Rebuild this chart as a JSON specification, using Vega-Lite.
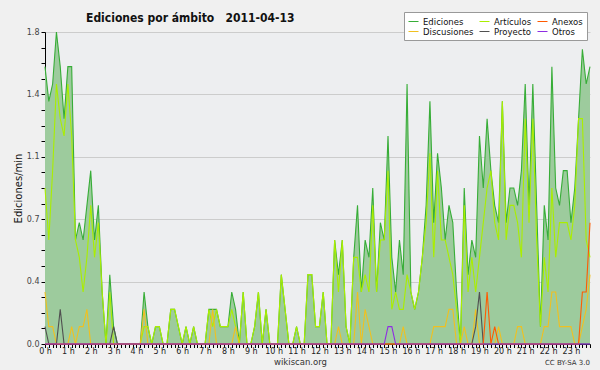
{
"$schema":"https://vega.github.io/schema/vega-lite/v6.json",
"width":545,"height":312,"autosize":"none",
"padding":{"left":45,"top":32,"right":10,"bottom":26},
"background":"#f0f0f0",
"config":{"view":{"fill":"#edeef0","stroke":null},"font":"DejaVu Sans","axisX":{"labelOverlap":false},"axis":{"labelOverlap":false}},
"title":{"text":"Ediciones por ámbito\u00a0\u00a0\u00a02011-04-13","anchor":"start","dx":73,"fontSize":12,"font":"DejaVu Sans Condensed, DejaVu Sans","fontWeight":"bold","color":"#111","offset":-13},
"data":{"values":[
{"m":0,"E":1.6,"A":0.9,"D":0.3,"P":0.1,"N":0,"O":0},
{"m":10,"E":1.4,"A":0.6,"D":0.1,"P":0,"N":0,"O":0},
{"m":20,"E":1.5,"A":1.0,"D":0.1,"P":0,"N":0,"O":0},
{"m":30,"E":1.8,"A":1.5,"D":0,"P":0,"N":0,"O":0},
{"m":40,"E":1.6,"A":1.3,"D":0,"P":0.2,"N":0,"O":0},
{"m":50,"E":1.3,"A":1.2,"D":0,"P":0,"N":0,"O":0},
{"m":60,"E":1.6,"A":1.5,"D":0,"P":0,"N":0,"O":0},
{"m":70,"E":1.6,"A":1.2,"D":0.1,"P":0,"N":0,"O":0},
{"m":80,"E":0.6,"A":0.6,"D":0,"P":0,"N":0,"O":0},
{"m":90,"E":0.7,"A":0.5,"D":0.1,"P":0,"N":0,"O":0},
{"m":100,"E":0.6,"A":0.3,"D":0.1,"P":0,"N":0,"O":0},
{"m":110,"E":0.8,"A":0.5,"D":0.2,"P":0,"N":0,"O":0},
{"m":120,"E":1.0,"A":0.8,"D":0,"P":0,"N":0,"O":0},
{"m":130,"E":0.6,"A":0.5,"D":0,"P":0,"N":0,"O":0},
{"m":140,"E":0.8,"A":0.7,"D":0,"P":0,"N":0,"O":0},
{"m":150,"E":0.3,"A":0.3,"D":0,"P":0,"N":0,"O":0},
{"m":160,"E":0,"A":0,"D":0,"P":0,"N":0,"O":0},
{"m":170,"E":0.4,"A":0.3,"D":0,"P":0,"N":0,"O":0},
{"m":180,"E":0.1,"A":0,"D":0,"P":0.1,"N":0,"O":0},
{"m":190,"E":0,"A":0,"D":0,"P":0,"N":0,"O":0},
{"m":200,"E":0,"A":0,"D":0,"P":0,"N":0,"O":0},
{"m":210,"E":0,"A":0,"D":0,"P":0,"N":0,"O":0},
{"m":220,"E":0,"A":0,"D":0,"P":0,"N":0,"O":0},
{"m":230,"E":0,"A":0,"D":0,"P":0,"N":0,"O":0},
{"m":240,"E":0,"A":0,"D":0,"P":0,"N":0,"O":0},
{"m":250,"E":0,"A":0,"D":0,"P":0,"N":0,"O":0},
{"m":260,"E":0.3,"A":0.1,"D":0.2,"P":0,"N":0,"O":0},
{"m":270,"E":0.1,"A":0.1,"D":0,"P":0,"N":0,"O":0},
{"m":280,"E":0,"A":0,"D":0,"P":0,"N":0,"O":0},
{"m":290,"E":0.1,"A":0.1,"D":0,"P":0,"N":0,"O":0},
{"m":300,"E":0.1,"A":0.1,"D":0,"P":0,"N":0,"O":0},
{"m":310,"E":0,"A":0,"D":0,"P":0,"N":0,"O":0},
{"m":320,"E":0,"A":0,"D":0,"P":0,"N":0,"O":0},
{"m":330,"E":0.2,"A":0.2,"D":0,"P":0,"N":0,"O":0},
{"m":340,"E":0.2,"A":0.2,"D":0,"P":0,"N":0,"O":0},
{"m":350,"E":0.1,"A":0.1,"D":0,"P":0,"N":0,"O":0},
{"m":360,"E":0,"A":0,"D":0,"P":0,"N":0,"O":0},
{"m":370,"E":0.1,"A":0.1,"D":0,"P":0,"N":0,"O":0},
{"m":380,"E":0,"A":0,"D":0,"P":0,"N":0,"O":0},
{"m":390,"E":0.1,"A":0.1,"D":0,"P":0,"N":0,"O":0},
{"m":400,"E":0,"A":0,"D":0,"P":0,"N":0,"O":0},
{"m":410,"E":0,"A":0,"D":0,"P":0,"N":0,"O":0},
{"m":420,"E":0,"A":0,"D":0,"P":0,"N":0,"O":0},
{"m":430,"E":0.2,"A":0.2,"D":0,"P":0,"N":0,"O":0},
{"m":440,"E":0.2,"A":0.1,"D":0.2,"P":0,"N":0,"O":0},
{"m":450,"E":0.2,"A":0.2,"D":0,"P":0,"N":0,"O":0},
{"m":460,"E":0.1,"A":0.1,"D":0,"P":0,"N":0,"O":0},
{"m":470,"E":0.1,"A":0.1,"D":0,"P":0,"N":0,"O":0},
{"m":480,"E":0.1,"A":0.1,"D":0,"P":0,"N":0,"O":0},
{"m":490,"E":0.3,"A":0.2,"D":0,"P":0,"N":0,"O":0},
{"m":500,"E":0.2,"A":0.1,"D":0.1,"P":0,"N":0,"O":0},
{"m":510,"E":0,"A":0,"D":0,"P":0,"N":0,"O":0},
{"m":520,"E":0.3,"A":0.3,"D":0,"P":0,"N":0,"O":0},
{"m":530,"E":0,"A":0,"D":0,"P":0,"N":0,"O":0},
{"m":540,"E":0,"A":0,"D":0,"P":0,"N":0,"O":0},
{"m":550,"E":0.1,"A":0.1,"D":0,"P":0,"N":0,"O":0},
{"m":560,"E":0.3,"A":0.3,"D":0,"P":0,"N":0,"O":0},
{"m":570,"E":0,"A":0,"D":0,"P":0,"N":0,"O":0},
{"m":580,"E":0.2,"A":0.2,"D":0,"P":0,"N":0,"O":0},
{"m":590,"E":0,"A":0,"D":0,"P":0,"N":0,"O":0},
{"m":600,"E":0,"A":0,"D":0,"P":0,"N":0,"O":0},
{"m":610,"E":0,"A":0,"D":0,"P":0,"N":0,"O":0},
{"m":620,"E":0.4,"A":0.4,"D":0,"P":0,"N":0,"O":0},
{"m":630,"E":0.2,"A":0.2,"D":0,"P":0,"N":0,"O":0},
{"m":640,"E":0,"A":0,"D":0,"P":0,"N":0,"O":0},
{"m":650,"E":0,"A":0,"D":0,"P":0,"N":0,"O":0},
{"m":660,"E":0.1,"A":0.1,"D":0,"P":0,"N":0,"O":0},
{"m":670,"E":0,"A":0,"D":0,"P":0,"N":0,"O":0},
{"m":680,"E":0,"A":0,"D":0,"P":0,"N":0,"O":0},
{"m":690,"E":0.4,"A":0.4,"D":0,"P":0,"N":0,"O":0},
{"m":700,"E":0.4,"A":0.4,"D":0,"P":0,"N":0,"O":0},
{"m":710,"E":0.1,"A":0.1,"D":0,"P":0,"N":0,"O":0},
{"m":720,"E":0.1,"A":0.1,"D":0,"P":0,"N":0,"O":0},
{"m":730,"E":0.3,"A":0.3,"D":0,"P":0,"N":0,"O":0},
{"m":740,"E":0,"A":0,"D":0,"P":0,"N":0,"O":0},
{"m":750,"E":0,"A":0,"D":0,"P":0,"N":0,"O":0},
{"m":760,"E":0.6,"A":0.6,"D":0,"P":0,"N":0,"O":0},
{"m":770,"E":0.4,"A":0.3,"D":0.1,"P":0,"N":0,"O":0},
{"m":780,"E":0.6,"A":0.6,"D":0,"P":0,"N":0,"O":0},
{"m":790,"E":0.1,"A":0.1,"D":0,"P":0,"N":0,"O":0},
{"m":800,"E":0,"A":0,"D":0,"P":0,"N":0,"O":0},
{"m":810,"E":0.5,"A":0.5,"D":0,"P":0,"N":0,"O":0},
{"m":820,"E":0.8,"A":0.5,"D":0.3,"P":0,"N":0,"O":0},
{"m":830,"E":0.3,"A":0.3,"D":0,"P":0,"N":0,"O":0},
{"m":840,"E":0.6,"A":0.4,"D":0.2,"P":0,"N":0,"O":0},
{"m":850,"E":0.5,"A":0.3,"D":0.1,"P":0,"N":0,"O":0},
{"m":860,"E":0.9,"A":0.8,"D":0,"P":0,"N":0,"O":0},
{"m":870,"E":0.3,"A":0.3,"D":0,"P":0,"N":0,"O":0},
{"m":880,"E":0.7,"A":0.6,"D":0,"P":0,"N":0,"O":0},
{"m":890,"E":0.6,"A":0.6,"D":0,"P":0,"N":0,"O":0},
{"m":900,"E":1.2,"A":1.0,"D":0,"P":0,"N":0,"O":0.1},
{"m":910,"E":0.5,"A":0.2,"D":0,"P":0,"N":0,"O":0.1},
{"m":920,"E":0.3,"A":0.3,"D":0,"P":0,"N":0,"O":0},
{"m":930,"E":0.6,"A":0.2,"D":0,"P":0,"N":0,"O":0},
{"m":940,"E":0.4,"A":0.2,"D":0.1,"P":0,"N":0,"O":0},
{"m":950,"E":1.5,"A":0.4,"D":0,"P":0,"N":0,"O":0},
{"m":960,"E":0.3,"A":0.3,"D":0,"P":0,"N":0,"O":0},
{"m":970,"E":0.2,"A":0.2,"D":0,"P":0,"N":0,"O":0},
{"m":980,"E":0.3,"A":0.3,"D":0,"P":0,"N":0,"O":0},
{"m":990,"E":0.5,"A":0.5,"D":0,"P":0,"N":0,"O":0},
{"m":1000,"E":0.8,"A":0.7,"D":0,"P":0,"N":0,"O":0},
{"m":1010,"E":1.4,"A":1.1,"D":0,"P":0,"N":0,"O":0},
{"m":1020,"E":0.7,"A":0.5,"D":0.1,"P":0,"N":0,"O":0},
{"m":1030,"E":1.1,"A":1.0,"D":0.1,"P":0,"N":0,"O":0},
{"m":1040,"E":0.9,"A":0.6,"D":0.1,"P":0,"N":0,"O":0},
{"m":1050,"E":0.6,"A":0.6,"D":0.1,"P":0,"N":0,"O":0},
{"m":1060,"E":0.8,"A":0.5,"D":0.2,"P":0,"N":0,"O":0},
{"m":1070,"E":0.7,"A":0.4,"D":0.2,"P":0,"N":0,"O":0},
{"m":1080,"E":0.3,"A":0.2,"D":0,"P":0,"N":0,"O":0},
{"m":1090,"E":0,"A":0,"D":0,"P":0,"N":0,"O":0},
{"m":1100,"E":0.9,"A":0.8,"D":0.1,"P":0,"N":0,"O":0},
{"m":1110,"E":0.4,"A":0.3,"D":0,"P":0,"N":0,"O":0},
{"m":1120,"E":0.6,"A":0.5,"D":0,"P":0,"N":0,"O":0},
{"m":1130,"E":0.5,"A":0.3,"D":0.2,"P":0.1,"N":0,"O":0},
{"m":1140,"E":1.2,"A":0.5,"D":0,"P":0.3,"N":0,"O":0},
{"m":1150,"E":0.9,"A":0.7,"D":0,"P":0,"N":0,"O":0},
{"m":1160,"E":1.3,"A":0.9,"D":0,"P":0,"N":0.3,"O":0},
{"m":1170,"E":1.0,"A":1.0,"D":0,"P":0,"N":0,"O":0},
{"m":1180,"E":0.8,"A":0.7,"D":0,"P":0,"N":0.1,"O":0},
{"m":1190,"E":0.7,"A":0.6,"D":0.1,"P":0,"N":0,"O":0},
{"m":1200,"E":1.4,"A":1.4,"D":0,"P":0,"N":0,"O":0},
{"m":1210,"E":0.7,"A":0.6,"D":0,"P":0,"N":0,"O":0},
{"m":1220,"E":0.9,"A":0.8,"D":0,"P":0,"N":0,"O":0},
{"m":1230,"E":0.9,"A":0.8,"D":0,"P":0,"N":0,"O":0},
{"m":1240,"E":0.8,"A":0.7,"D":0.1,"P":0,"N":0,"O":0},
{"m":1250,"E":1.0,"A":0.5,"D":0.1,"P":0,"N":0,"O":0},
{"m":1260,"E":1.5,"A":1.3,"D":0,"P":0,"N":0,"O":0},
{"m":1270,"E":0.8,"A":0.7,"D":0,"P":0,"N":0,"O":0},
{"m":1280,"E":1.5,"A":1.3,"D":0,"P":0,"N":0,"O":0},
{"m":1290,"E":0.8,"A":0.6,"D":0,"P":0,"N":0,"O":0},
{"m":1300,"E":0.1,"A":0.1,"D":0,"P":0,"N":0,"O":0},
{"m":1310,"E":0.8,"A":0.5,"D":0.1,"P":0,"N":0,"O":0},
{"m":1320,"E":0.6,"A":0.3,"D":0.1,"P":0,"N":0,"O":0},
{"m":1330,"E":1.6,"A":0.9,"D":0.3,"P":0,"N":0,"O":0},
{"m":1340,"E":0.9,"A":0.5,"D":0.3,"P":0,"N":0,"O":0},
{"m":1350,"E":0.8,"A":0.7,"D":0.1,"P":0,"N":0,"O":0},
{"m":1360,"E":1.0,"A":0.7,"D":0.1,"P":0,"N":0,"O":0},
{"m":1370,"E":1.0,"A":0.7,"D":0.1,"P":0,"N":0,"O":0},
{"m":1380,"E":0.7,"A":0.6,"D":0.1,"P":0,"N":0,"O":0},
{"m":1390,"E":0.9,"A":0.8,"D":0,"P":0,"N":0,"O":0},
{"m":1400,"E":1.3,"A":1.3,"D":0,"P":0,"N":0,"O":0},
{"m":1410,"E":1.7,"A":1.3,"D":0.1,"P":0,"N":0.3,"O":0},
{"m":1420,"E":1.5,"A":0.6,"D":0.2,"P":0,"N":0.3,"O":0},
{"m":1430,"E":1.6,"A":0.5,"D":0.4,"P":0,"N":0.7,"O":0}
]},
"layer":[
{"mark":{"type":"area","color":"#9dcb9d","opacity":1},
 "encoding":{
  "x":{"field":"m","type":"quantitative","scale":{"domain":[0,1430],"nice":false,"zero":false},
   "axis":{"values":[0,10,20,30,40,50,60,70,80,90,100,110,120,130,140,150,160,170,180,190,200,210,220,230,240,250,260,270,280,290,300,310,320,330,340,350,360,370,380,390,400,410,420,430,440,450,460,470,480,490,500,510,520,530,540,550,560,570,580,590,600,610,620,630,640,650,660,670,680,690,700,710,720,730,740,750,760,770,780,790,800,810,820,830,840,850,860,870,880,890,900,910,920,930,940,950,960,970,980,990,1000,1010,1020,1030,1040,1050,1060,1070,1080,1090,1100,1110,1120,1130,1140,1150,1160,1170,1180,1190,1200,1210,1220,1230,1240,1250,1260,1270,1280,1290,1300,1310,1320,1330,1340,1350,1360,1370,1380,1390,1400,1410,1420,1430],
    "tickCount":200,
    "labelExpr":"datum.value % 60 == 0 ? (datum.value/60) + ' h' : ''",
    "labelOverlap":false,"labelFlush":false,"labelBound":false,"labelFontSize":8,"labelColor":"#222","labelPadding":0,
    "tickSize":3.5,"tickColor":"#000","domainColor":"#000","grid":false,
    "title":"wikiscan.org","titleFontSize":8.5,"titleFontWeight":"normal","titleColor":"#333","titleX":255,"titleY":20,"titleBaseline":"alphabetic"}},
  "y":{"field":"E","type":"quantitative","scale":{"domain":[0,1.8],"nice":false},
   "axis":{"values":[0,0.09,0.18,0.27,0.36,0.45,0.54,0.63,0.72,0.81,0.9,0.99,1.08,1.17,1.26,1.35,1.44,1.53,1.62,1.71,1.8],
    "tickCount":30,
    "labelExpr":"round(datum.value*100) % 36 == 0 ? format(datum.value, '.1f') : ''",
    "labelOverlap":false,"labelFlush":false,"labelFontSize":8,"labelColor":"#444","labelPadding":2,
    "tickSize":4,"tickColor":"#000","domainColor":"#000",
    "grid":true,"gridColor":"#cccccc","gridOpacity":{"condition":{"test":"round(datum.value*100) % 36 == 0","value":1},"value":0},
    "title":"Ediciones/min","titleFontSize":10,"titleFontWeight":"normal","titleColor":"#111","titleX":-27,"titleY":156,"titleAngle":-90,"titleBaseline":"middle","titleAlign":"center"}}
 }},
{"transform":[{"fold":["E","A","D","P","N","O"],"as":["s","v"]}],
 "mark":{"type":"line","strokeWidth":1.1},
 "encoding":{
  "x":{"field":"m","type":"quantitative"},
  "y":{"field":"v","type":"quantitative"},
  "color":{"field":"s","type":"nominal",
   "scale":{"domain":["E","A","N","D","P","O"],"range":["#37ad37","#aaee00","#ff5a00","#f0c020","#505050","#8e2de2"]},
   "legend":{"orient":"none","legendX":359,"legendY":-20,"direction":"horizontal","columns":3,"title":null,
    "symbolType":"stroke","symbolSize":100,"symbolStrokeWidth":1,"labelFontSize":8.5,"labelColor":"#111","labelLimit":0,
    "fillColor":"#ffffff","strokeColor":"#999999","padding":4,"columnPadding":3,"rowPadding":0,
    "labelExpr":"datum.label == 'E' ? 'Ediciones' : datum.label == 'A' ? 'Artículos' : datum.label == 'N' ? 'Anexos' : datum.label == 'D' ? 'Discusiones' : datum.label == 'P' ? 'Proyecto' : 'Otros'"}}
 }},
{"data":{"values":[{"t":"CC BY-SA 3.0"}]},
 "mark":{"type":"text","align":"right","baseline":"middle","dy":19,"fontSize":7,"color":"#333"},
 "encoding":{"x":{"datum":1430,"type":"quantitative"},"y":{"datum":0,"type":"quantitative"},"text":{"field":"t"}}}
]
}
